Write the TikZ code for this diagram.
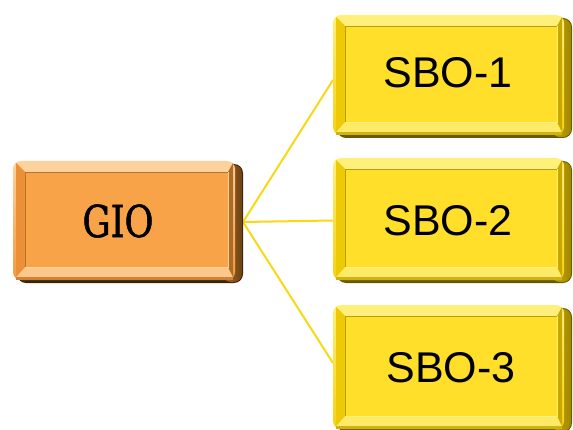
\documentclass[tikz,border=0pt]{standalone}
\usepackage{fontspec}
\newfontfamily\giofont[FakeStretch=0.8,FakeBold=1.2]{DejaVu Serif}
\newfontfamily\sbofont{Liberation Sans}
\definecolor{gFace}{HTML}{F9A348}
\definecolor{gLight}{HTML}{FDD29C}
\definecolor{gRim}{HTML}{F39A42}
\definecolor{gLeft}{HTML}{EC9038}
\definecolor{gRbev}{HTML}{B06A24}
\definecolor{gDark}{HTML}{6A4214}
\definecolor{gDeep}{HTML}{3A2408}
\definecolor{yFace}{HTML}{FFDF2A}
\definecolor{yLight}{HTML}{FFF07C}
\definecolor{yRim}{HTML}{F5D214}
\definecolor{yLeft}{HTML}{EECA06}
\definecolor{yRbev}{HTML}{C8A800}
\definecolor{yDark}{HTML}{A08700}
\definecolor{yDeep}{HTML}{6A5800}
\definecolor{linkc}{HTML}{F7D916}
\newcommand{\bevbox}[5]{%
  % #1 prefix, #2 left, #3 bottom, #4 right, #5 top
  \fill[#1Deep, rounded corners=9pt] (#2+4,#3) rectangle (#4,#5-3);
  \shade[rounded corners=8pt, left color=#1Rbev, right color=#1Dark] (#4-20,#3+1) rectangle (#4-1,#5-4);
  \shade[rounded corners=8pt, top color=#1Light, bottom color=#1Rim] (#2,#3+3) rectangle (#4-8,#5);
  % bevels
  \fill[#1Light] (#2+3,#5-2) -- (#4-10,#5-2) -- (#4-15,#5-11) -- (#2+12,#5-11) -- cycle;
  \fill[#1Light!80!#1Rim] (#2+3,#3+6) -- (#4-10,#3+6) -- (#4-15,#3+16) -- (#2+12,#3+16) -- cycle;
  \fill[#1Rim!85!black] (#2+3,#3+3) -- (#4-10,#3+3) -- (#4-10,#3+6) -- (#2+3,#3+6) -- cycle;
  \fill[#1Left] (#2+3,#5-2) -- (#2+12,#5-11) -- (#2+12,#3+16) -- (#2+3,#3+6) -- cycle;
  \fill[#1Rbev] (#4-10,#5-2) -- (#4-15,#5-11) -- (#4-15,#3+16) -- (#4-10,#3+6) -- cycle;
  \fill[#1Face] (#2+12,#3+16) rectangle (#4-15,#5-11);
  \draw[#1Rim!75!black, line width=0.8pt] (#2+12,#3+16) -- (#2+12,#5-11) -- (#4-15,#5-11);
  \draw[#1Light, line width=0.8pt] (#2+12,#3+16) -- (#4-15,#3+16) -- (#4-15,#5-11);
}
\tikzset{
  boxarea/.style={rectangle, inner sep=0pt, outer sep=0pt},
  gtext/.style={inner sep=0pt, font=\giofont\fontsize{44}{50}\selectfont},
  stext/.style={inner sep=0pt, font=\sbofont\fontsize{43}{50}\selectfont},
  link/.style={draw=linkc, line width=2pt}
}
\begin{document}
\begin{tikzpicture}[x=1pt,y=1pt]
\useasboundingbox (0,0) rectangle (573,429);
% invisible box areas
\node[boxarea, minimum width=230pt, minimum height=122pt] (gio) at (128,207) {};
\node[boxarea, minimum width=239pt, minimum height=123pt] (sbo1) at (452.5,352.5) {};
\node[boxarea, minimum width=239pt, minimum height=125pt] (sbo2) at (452.5,208.5) {};
\node[boxarea, minimum width=239pt, minimum height=127pt] (sbo3) at (452.5,60.5) {};
% connectors
\draw[link] (gio.east) -- ([yshift=-3.5pt]sbo1.west);
\draw[link] (gio.east) -- (sbo2.west);
\draw[link] (gio.east) -- ([yshift=5.5pt]sbo3.west);
% boxes
\bevbox{g}{13}{146}{243}{268}
\bevbox{y}{333}{291}{572}{414}
\bevbox{y}{333}{146}{572}{271}
\bevbox{y}{333}{-3}{572}{124}
% texts
\node[gtext] (giotxt) at (118,208) {GIO};
\node[stext] (sbo1txt) at (448,356) {SBO-1};
\node[stext] (sbo2txt) at (448,208) {SBO-2};
\node[stext] (sbo3txt) at (451,61) {SBO-3};
\end{tikzpicture}
\end{document}
